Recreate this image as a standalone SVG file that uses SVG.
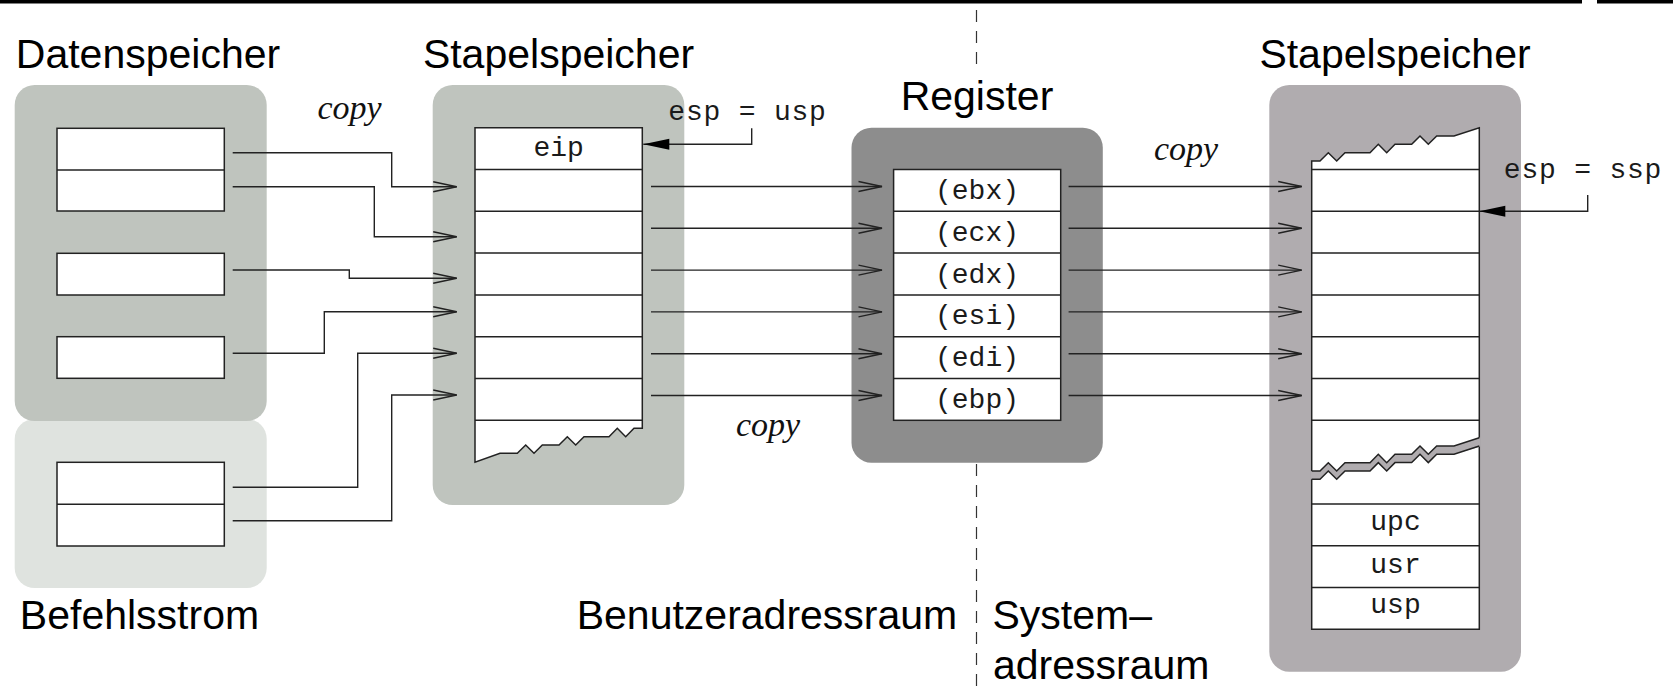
<svg xmlns="http://www.w3.org/2000/svg" width="1673" height="693" viewBox="0 0 1673 693">
<style>
.title{font-family:"Liberation Sans",Arial,sans-serif;font-size:41px;fill:#000}
.mono{font-family:"Liberation Mono","Courier New",monospace;font-size:28px;fill:#1a1a1a;text-anchor:middle}
.wide{letter-spacing:0.8px}
.copy{font-family:"Liberation Serif","Times New Roman",serif;font-style:italic;font-size:34px;fill:#111;text-anchor:middle}
.cell{fill:#fff;stroke:#222;stroke-width:1.5}
.rl{stroke:#222;stroke-width:1.5;fill:none}
.conn{fill:none;stroke:#222;stroke-width:1.4}
</style>
<defs>
<marker id="open" markerUnits="userSpaceOnUse" markerWidth="26" markerHeight="14" refX="23.5" refY="7" orient="auto" overflow="visible">
<path d="M0,2 L23.5,7 L0,12" fill="none" stroke="#222" stroke-width="1.4"/>
</marker>
<marker id="solid" markerUnits="userSpaceOnUse" markerWidth="28" markerHeight="14" refX="26" refY="6" orient="auto" overflow="visible">
<path d="M0,0.5 L26,6 L0,11.5 Z" fill="#000"/>
</marker>
</defs>
<rect x="0" y="0" width="1582" height="3.5" fill="#000"/>
<rect x="1597" y="0" width="76" height="3.5" fill="#000"/>
<g id="divider">
<line x1="976.5" y1="10" x2="976.5" y2="68" stroke="#333" stroke-width="1.2" stroke-dasharray="12,9"/>
<line x1="976.5" y1="464" x2="976.5" y2="693" stroke="#333" stroke-width="1.2" stroke-dasharray="12,9"/>
</g>
<g id="befehlsstrom">
<rect x="14.7" y="419" width="252" height="169" rx="20" fill="#dfe3df"/>
<rect x="57" y="462.3" width="167.3" height="83.7" class="cell"/>
<line x1="57" y1="504.3" x2="224.3" y2="504.3" class="rl"/>
<text x="139.5" y="628.5" class="title" text-anchor="middle">Befehlsstrom</text>
</g>
<g id="datenspeicher">
<rect x="14.7" y="85" width="252" height="336" rx="20" fill="#bfc4be"/>
<rect x="57" y="128.3" width="167.3" height="82.7" class="cell"/>
<line x1="57" y1="170" x2="224.3" y2="170" class="rl"/>
<rect x="57" y="253.3" width="167.3" height="41.7" class="cell"/>
<rect x="57" y="336.7" width="167.3" height="41.6" class="cell"/>
<text x="148" y="68" class="title" text-anchor="middle">Datenspeicher</text>
</g>
<g id="stack-user">
<rect x="432.7" y="85" width="251.6" height="420" rx="20" fill="#bfc4be"/>
<path class="cell" d="M475,127.7 H642.3 V428.3 L634,428.3 L625.7,436.7 L617.3,428.3 L609,436.7 L584,436.7 L575.7,445 L567.3,436.7 L559,445 L542.3,445 L534,453.3 L525.7,445 L517.3,453.3 L500,453.3 L475,462.3 Z"/>
<path class="rl" d="M475,169.5 H642.3 M475,211.3 H642.3 M475,253.1 H642.3 M475,294.9 H642.3 M475,336.7 H642.3 M475,378.5 H642.3 M475,420.3 H642.3"/>
<text x="558.7" y="156" class="mono">eip</text>
<text x="558.5" y="68" class="title" text-anchor="middle">Stapelspeicher</text>
</g>
<g id="register">
<rect x="851.5" y="127.7" width="251.3" height="335" rx="20" fill="#8d8d8d"/>
<rect x="893.6" y="169.5" width="167.1" height="250.8" class="cell"/>
<path class="rl" d="M893.6,211.3 H1060.7 M893.6,253.1 H1060.7 M893.6,294.9 H1060.7 M893.6,336.7 H1060.7 M893.6,378.5 H1060.7"/>
<text x="977" y="199" class="mono">(ebx)</text>
<text x="977" y="240.8" class="mono">(ecx)</text>
<text x="977" y="282.6" class="mono">(edx)</text>
<text x="977" y="324.4" class="mono">(esi)</text>
<text x="977" y="366.2" class="mono">(edi)</text>
<text x="977" y="408" class="mono">(ebp)</text>
<text x="977" y="110" class="title" text-anchor="middle">Register</text>
</g>
<g id="stack-system">
<rect x="1269.3" y="85" width="251.7" height="586.7" rx="20" fill="#b0acaf"/>
<path class="cell" d="M1311.7,629.3 V161 L1320,161 L1328.3,152.7 L1336.7,161 L1345,152.7 L1370,152.7 L1378.3,144.3 L1386.7,152.7 L1395,144.3 L1411.7,144.3 L1420,136 L1428.3,144.3 L1436.7,136 L1454,136 L1479.3,127.7 V629.3 Z"/>
<path class="rl" d="M1311.7,169.5 H1479.3 M1311.7,211.3 H1479.3 M1311.7,253.1 H1479.3 M1311.7,294.9 H1479.3 M1311.7,336.7 H1479.3 M1311.7,378.5 H1479.3 M1311.7,420.3 H1479.3 M1311.7,503.9 H1479.3 M1311.7,545.7 H1479.3 M1311.7,587.5 H1479.3"/>
<polygon fill="#b0acaf" points="1310.5,471 1320,471 1328.3,462.7 1336.7,471 1345,462.7 1370,462.7 1378.3,454.3 1386.7,462.7 1395,454.3 1411.7,454.3 1420,446 1428.3,454.3 1436.7,446 1454,446 1480.5,437.3 1480.5,446.4 1454,454.3 1436.7,454.3 1428.3,462.6 1420,454.3 1411.7,462.6 1395,462.6 1386.7,471 1378.3,462.6 1370,471 1345,471 1336.7,479.3 1328.3,471 1320,479.3 1310.5,479.3"/>
<polyline class="rl" points="1311.7,471 1320,471 1328.3,462.7 1336.7,471 1345,462.7 1370,462.7 1378.3,454.3 1386.7,462.7 1395,454.3 1411.7,454.3 1420,446 1428.3,454.3 1436.7,446 1454,446 1479.3,437.7"/>
<polyline class="rl" points="1311.7,479.3 1320,479.3 1328.3,471 1336.7,479.3 1345,471 1370,471 1378.3,462.6 1386.7,471 1395,462.6 1411.7,462.6 1420,454.3 1428.3,462.6 1436.7,454.3 1454,454.3 1479.3,446"/>
<text x="1395.5" y="530" class="mono">upc</text>
<text x="1395.5" y="573" class="mono">usr</text>
<text x="1395.5" y="613" class="mono">usp</text>
<text x="1395" y="68" class="title" text-anchor="middle">Stapelspeicher</text>
</g>
<g id="connectors">
<path class="conn" marker-end="url(#open)" d="M232.7,152.7 H391.7 V186.7 H456.7"/>
<path class="conn" marker-end="url(#open)" d="M232.7,186.7 H374.3 V236.7 H456.7"/>
<path class="conn" marker-end="url(#open)" d="M232.7,270 H349.3 V278.3 H456.7"/>
<path class="conn" marker-end="url(#open)" d="M232.7,353.3 H324.3 V311.7 H456.7"/>
<path class="conn" marker-end="url(#open)" d="M232.7,487.3 H357.7 V353.3 H456.7"/>
<path class="conn" marker-end="url(#open)" d="M232.7,520.7 H391.7 V395 H456.7"/>
<path class="conn" marker-end="url(#open)" d="M651,186.5 H882"/>
<path class="conn" marker-end="url(#open)" d="M651,228.3 H882"/>
<path class="conn" marker-end="url(#open)" d="M651,270.1 H882"/>
<path class="conn" marker-end="url(#open)" d="M651,311.9 H882"/>
<path class="conn" marker-end="url(#open)" d="M651,353.7 H882"/>
<path class="conn" marker-end="url(#open)" d="M651,395.5 H882"/>
<path class="conn" marker-end="url(#open)" d="M1068.6,186.5 H1301.7"/>
<path class="conn" marker-end="url(#open)" d="M1068.6,228.3 H1301.7"/>
<path class="conn" marker-end="url(#open)" d="M1068.6,270.1 H1301.7"/>
<path class="conn" marker-end="url(#open)" d="M1068.6,311.9 H1301.7"/>
<path class="conn" marker-end="url(#open)" d="M1068.6,353.7 H1301.7"/>
<path class="conn" marker-end="url(#open)" d="M1068.6,395.5 H1301.7"/>
<path class="conn" marker-end="url(#solid)" d="M751.7,128.3 V144.3 H643.3"/>
<path class="conn" marker-end="url(#solid)" d="M1587.7,195 V211.3 H1479.3"/>
</g>
<g id="labels">
<text x="349.5" y="119" class="copy">copy</text>
<text x="1186" y="160" class="copy">copy</text>
<text x="768" y="435.5" class="copy">copy</text>
<text x="747.5" y="120" class="mono wide">esp = usp</text>
<text x="1583" y="178" class="mono wide">esp = ssp</text>
<text x="767" y="628.5" class="title" text-anchor="middle">Benutzeradressraum</text>
<text x="992.5" y="628.5" class="title">System–</text>
<text x="993" y="678.5" class="title">adressraum</text>
</g>
</svg>
